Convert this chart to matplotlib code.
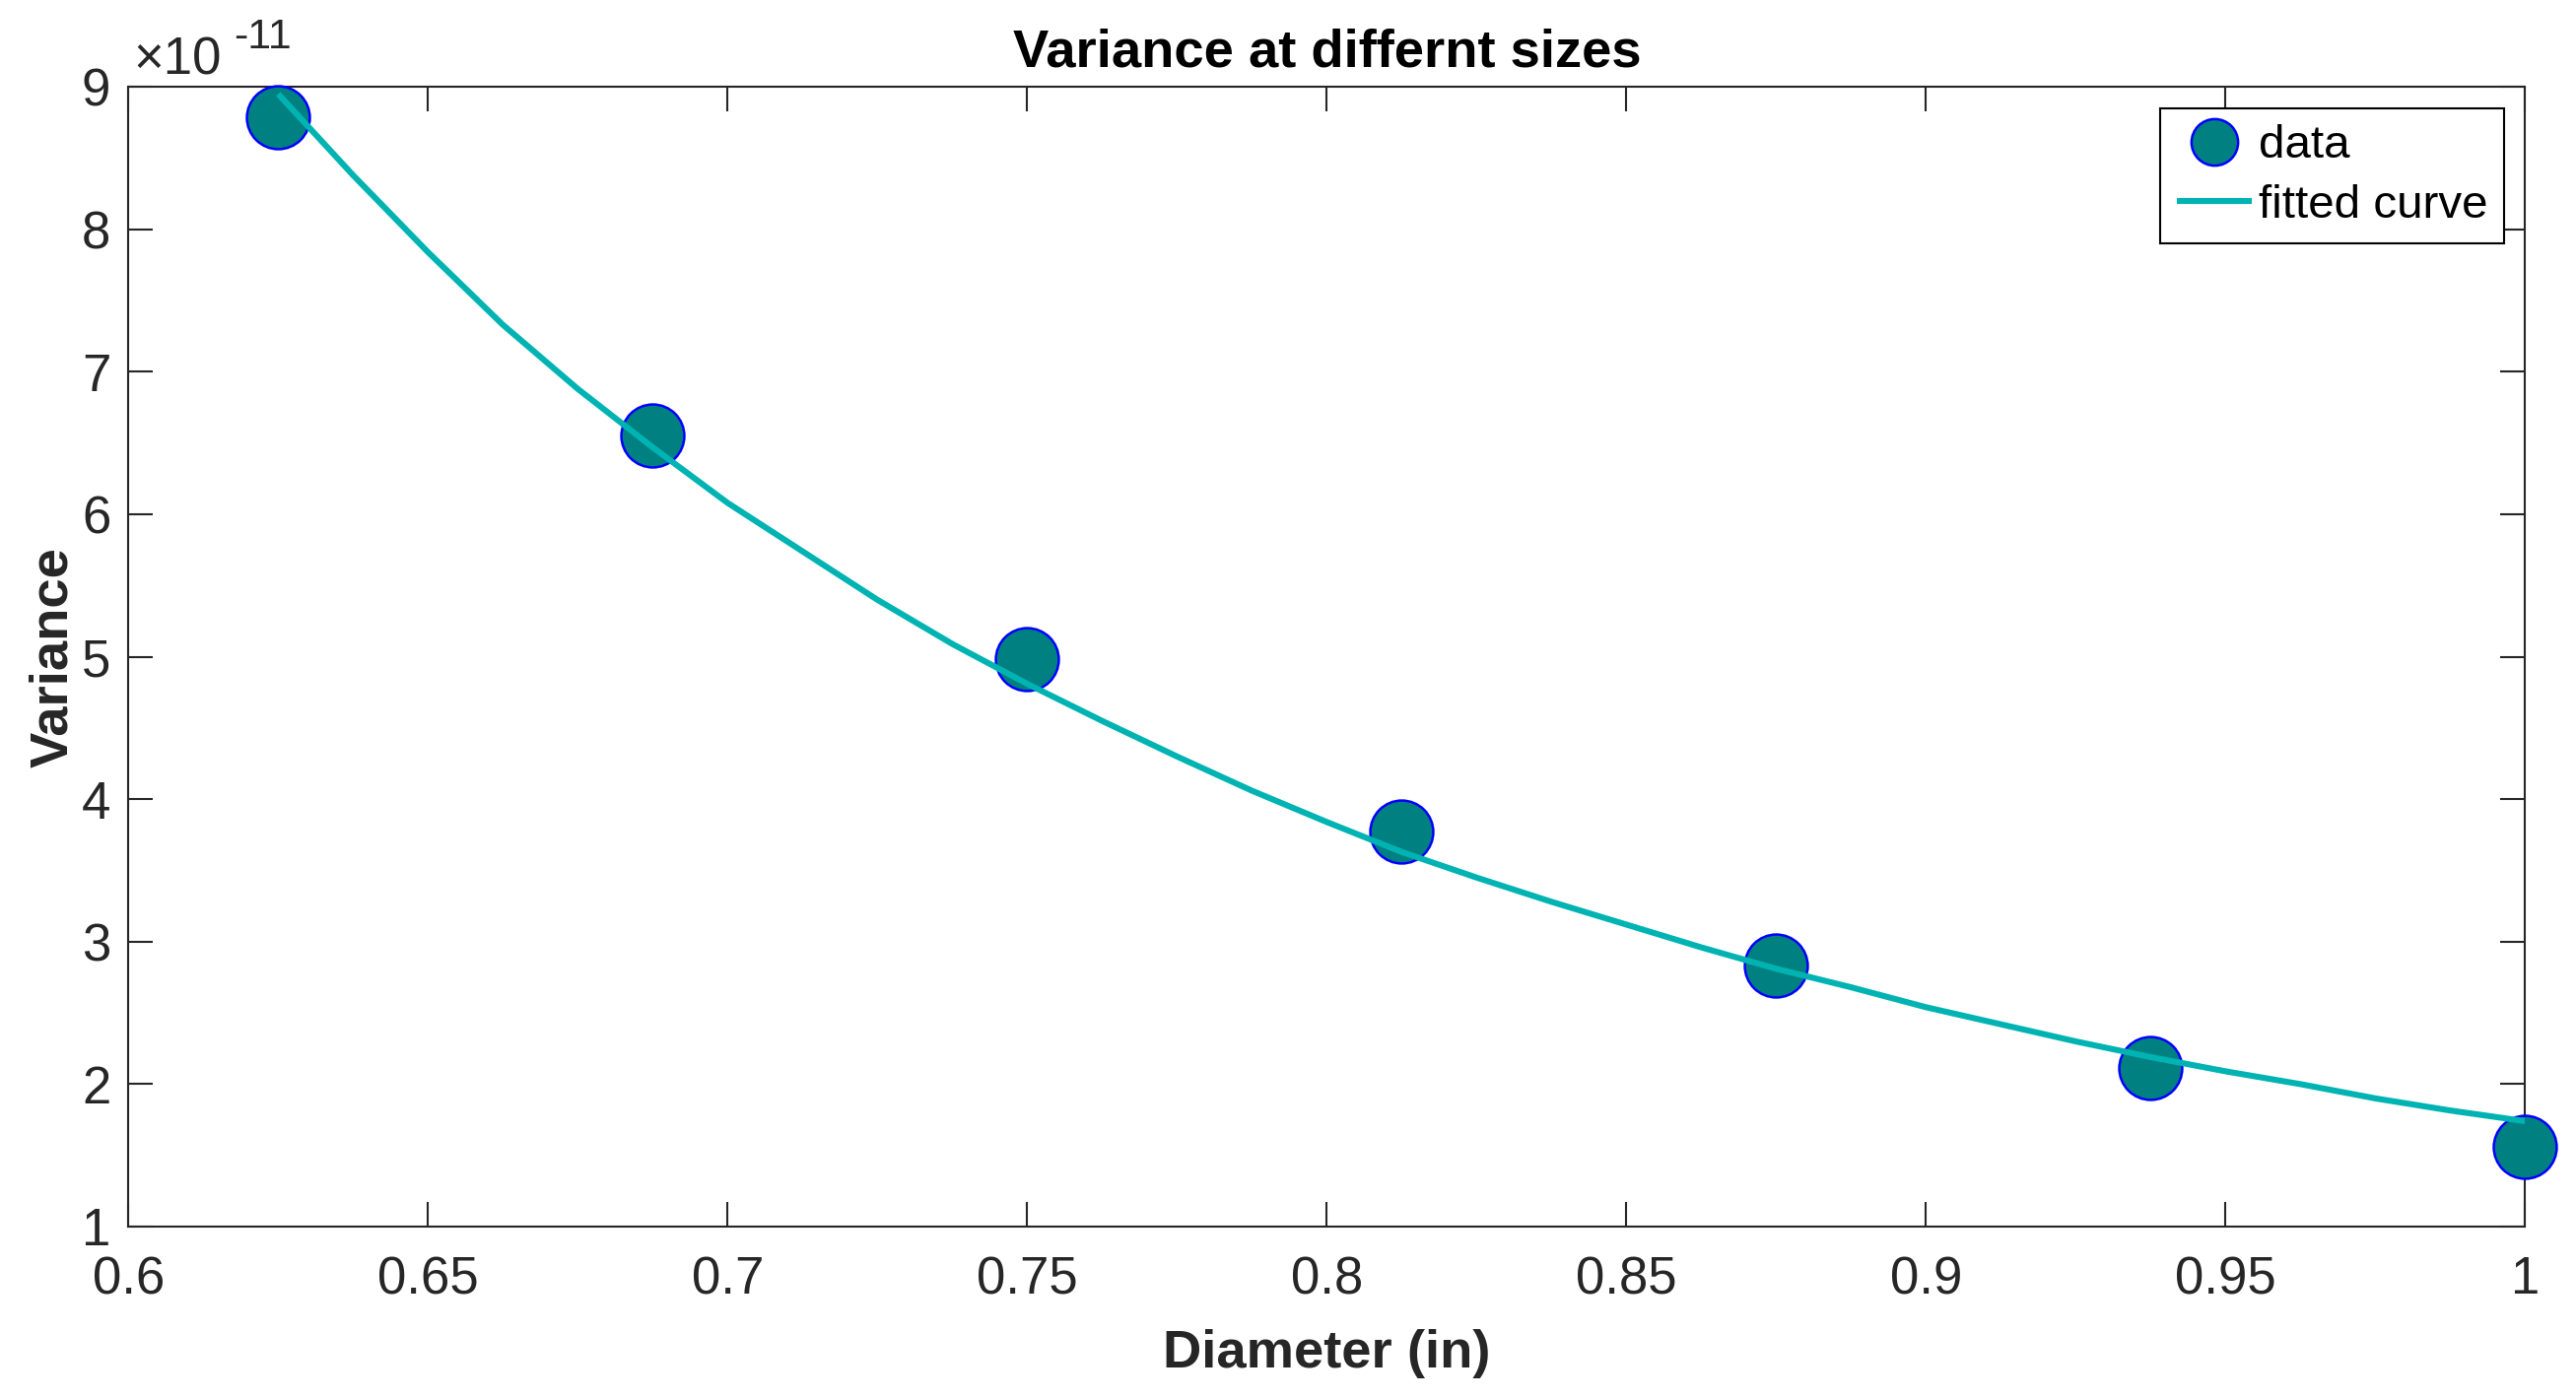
import matplotlib
matplotlib.use("Agg")
import matplotlib.pyplot as plt
from matplotlib.ticker import FuncFormatter, FixedLocator

plt.rcParams['font.family'] = ['Liberation Sans', 'DejaVu Sans']

# ---- data (variance in units of 1e-11) ----
diameter = [0.625, 0.6875, 0.75, 0.8125, 0.875, 0.9375, 1.0]
variance_e11 = [8.79, 6.55, 4.98, 3.77, 2.83, 2.11, 1.56]

# fitted curve, every 0.0125
fit_diameter = [0.625, 0.6375, 0.65, 0.6625, 0.675, 0.6875, 0.7, 0.7125,
                0.725, 0.7375, 0.75, 0.7625, 0.775, 0.7875, 0.8, 0.8125,
                0.825, 0.8375, 0.85, 0.8625, 0.875, 0.8875, 0.9, 0.9125,
                0.925, 0.9375, 0.95, 0.9625, 0.975, 0.9875, 1.0]
fit_variance_e11 = [8.95, 8.38, 7.84, 7.33, 6.88, 6.47, 6.08, 5.74,
                    5.40, 5.09, 4.81, 4.55, 4.30, 4.06, 3.84, 3.63,
                    3.45, 3.28, 3.12, 2.96, 2.81, 2.68, 2.54, 2.42,
                    2.30, 2.19, 2.09, 2.00, 1.90, 1.815, 1.74]

x_ticks = [0.6, 0.65, 0.7, 0.75, 0.8, 0.85, 0.9, 0.95, 1.0]
y_ticks = [1, 2, 3, 4, 5, 6, 7, 8, 9]

title = "Variance at differnt sizes"
xlabel = "Diameter (in)"
ylabel = "Variance"
exponent_base = "\u00d710"
exponent_power = "-11"
legend_labels = ["data", "fitted curve"]

# ---- figure ----
DPI = 200
fig = plt.figure(figsize=(2614 / DPI, 1420 / DPI), dpi=DPI)
ax = fig.add_axes([0.04985, 0.12324, 0.93038, 0.81465])

axis_color = "#262626"
tick_fs = 19
label_fs = 19.6
legend_fs = 17.1

ax.plot(diameter, variance_e11, linestyle="none", marker="o", markersize=23,
        markerfacecolor="#008080", markeredgecolor="#0000FF",
        markeredgewidth=0.9, clip_on=False, zorder=3, label=legend_labels[0])
ax.plot(fit_diameter, fit_variance_e11, color="#00B3B3", linewidth=2.2,
        solid_capstyle="butt", solid_joinstyle="round", zorder=4,
        label=legend_labels[1])

ax.set_xlim(0.6, 1.0)
ax.set_ylim(1, 9)
ax.xaxis.set_major_locator(FixedLocator(x_ticks))
ax.yaxis.set_major_locator(FixedLocator(y_ticks))
ax.xaxis.set_major_formatter(FuncFormatter(lambda v, p: "%g" % v))
ax.yaxis.set_major_formatter(FuncFormatter(lambda v, p: "%g" % v))

for s in ax.spines.values():
    s.set_linewidth(0.75)
    s.set_color(axis_color)

ax.tick_params(axis="both", which="major", direction="in", length=9,
               width=0.75, color=axis_color, labelcolor=axis_color,
               labelsize=tick_fs, top=True, right=True)
ax.tick_params(axis="x", pad=10.5)
ax.tick_params(axis="y", pad=6.5)

ax.set_title(title, fontsize=label_fs, fontweight="bold", color="black",
             y=1.0182, pad=0, va="baseline")
ax.set_xlabel(xlabel, fontsize=label_fs, fontweight="bold", color=axis_color)
ax.xaxis.label.set_va("baseline")
ax.xaxis.set_label_coords(0.5, -0.1236)
ax.set_ylabel(ylabel, fontsize=label_fs, fontweight="bold", color=axis_color)
ax.yaxis.set_label_coords(-0.0211, 0.5)

ax.text(0.002, 1.0112, exponent_base, transform=ax.transAxes, ha="left",
        va="baseline", fontsize=tick_fs, color=axis_color)
ax.text(0.0440, 1.0340, exponent_power, transform=ax.transAxes, ha="left",
        va="baseline", fontsize=15.5, color=axis_color)

leg = ax.legend(loc="upper right", fontsize=legend_fs, frameon=True,
                fancybox=False, edgecolor="black", framealpha=1,
                borderaxespad=0.45, borderpad=0.35, labelspacing=0.35,
                handlelength=1.6, handletextpad=0.15, markerscale=0.74)
leg.get_frame().set_linewidth(0.75)
for t in leg.get_texts():
    t.set_color("black")

fig.savefig("out.png", dpi=DPI)
